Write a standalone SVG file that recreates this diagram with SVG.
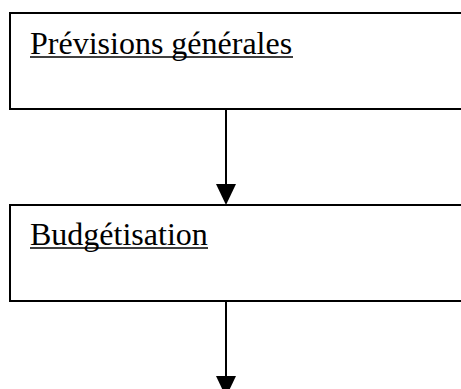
<svg xmlns="http://www.w3.org/2000/svg" width="461" height="389" viewBox="0 0 461 389">
<style>
.box{fill:#fff;stroke:#000;stroke-width:2}
.lbl{font-family:"Liberation Serif","Times New Roman",serif;font-size:32px;fill:#000}
.ul{stroke:#000;stroke-width:1.5}
.conn{stroke:#000;stroke-width:2;fill:none}
.head{fill:#000}
</style>
<rect width="461" height="389" fill="#fff"/>
<g id="node-previsions">
<rect class="box" x="10" y="13" width="470" height="96"/>
<text class="lbl" x="30" y="54">Prévisions générales</text>
<line class="ul" x1="30" y1="57" x2="293" y2="57"/>
</g>
<g id="node-budgetisation">
<rect class="box" x="10" y="205" width="470" height="96"/>
<text class="lbl" x="30" y="245">Budgétisation</text>
<line class="ul" x1="30" y1="248" x2="208" y2="248"/>
</g>
<g id="connectors">
<line class="conn" x1="226" y1="109" x2="226" y2="185"/>
<polygon class="head" points="216,184 236,184 226,205"/>
<line class="conn" x1="226" y1="301" x2="226" y2="377"/>
<polygon class="head" points="216,376 236,376 226,397"/>
</g>
</svg>
